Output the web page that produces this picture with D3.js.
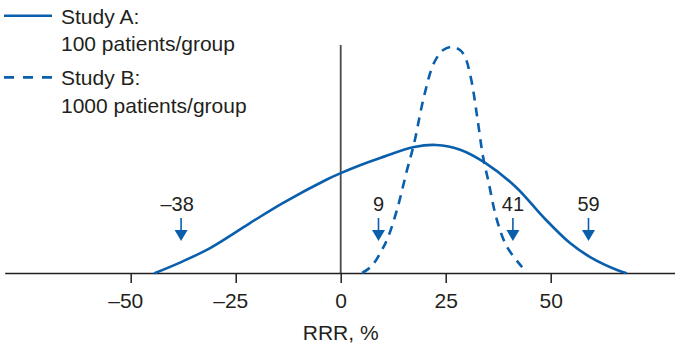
<!DOCTYPE html>
<html>
<head>
<meta charset="utf-8">
<script src="https://cdn.jsdelivr.net/npm/d3@7"></script>
<style>
  html, body { margin: 0; padding: 0; background: #fff; }
  svg { display: block; }
  text { font-family: "Liberation Sans", Arial, Helvetica, sans-serif; fill: #231f20; }
</style>
</head>
<body>
<svg id="chart" width="675" height="344"></svg>
<script>
// Relative risk reduction (%) and relative likelihood for each study
const studyA_rrr     = [-44.2, -38, -31.1, -21.6, -13.8, -3.3, 0, 4.6, 9.4, 17.5, 22.7, 28.6, 34.4, 41.7, 48.2, 54.6, 59.4, 65.8, 67.9];
const studyA_density = [0, 0.048, 0.110, 0.220, 0.308, 0.412, 0.440, 0.475, 0.507, 0.555, 0.564, 0.542, 0.485, 0.379, 0.247, 0.132, 0.070, 0.013, 0];

const studyB_rrr     = [5.1, 7.4, 9.8, 11.3, 13.4, 15.8, 17.5, 19.8, 22.2, 24.4, 26.5, 28.4, 29.6, 31.1, 32.5, 33.9, 35.1, 37.2, 39.6, 43.2];
const studyB_density = [0, 0.031, 0.101, 0.159, 0.278, 0.454, 0.573, 0.775, 0.925, 0.982, 0.996, 0.982, 0.952, 0.850, 0.687, 0.511, 0.410, 0.233, 0.115, 0.026];

// 95% confidence limits marked with arrows
const ciLimits = [-38, 9, 41, 59];

const xTicks = [-50, -25, 0, 25, 50];
const legendLabels = [["Study A:", "100 patients/group"], ["Study B:", "1000 patients/group"]];
const xTitle = "RRR, %";

const blue = "#0a5fac";
const svg = d3.select("#chart");

const x = d3.scaleLinear().domain([-80, 80]).range([4.7, 676.7]);
const y = d3.scaleLinear().domain([0, 1]).range([273, 46]);

const fmt = v => (v < 0 ? "\u2013" + Math.abs(v) : String(v));

// Zero reference line
svg.append("line")
  .attr("x1", x(0)).attr("x2", x(0))
  .attr("y1", 45).attr("y2", y(0))
  .attr("stroke", "#4a4a4a").attr("stroke-width", 1.8);

// X axis
const axis = svg.append("g")
  .attr("transform", `translate(0,${y(0)})`)
  .call(d3.axisBottom(x).tickValues(xTicks).tickFormat(fmt)
    .tickSize(10).tickSizeOuter(0).tickPadding(10));
axis.select(".domain").attr("stroke", "#231f20").attr("stroke-width", 1.6);
axis.selectAll(".tick line").attr("stroke", "#231f20").attr("stroke-width", 1.5);
axis.selectAll(".tick text")
  .attr("font-size", 21)
  .attr("fill", "#231f20")
  .attr("dx", d => (d < 0 ? "-0.26em" : 0));

svg.append("text")
  .attr("x", x(0)).attr("y", 340)
  .attr("text-anchor", "middle")
  .attr("font-size", 21)
  .text(xTitle);

// Likelihood curves
const line = d3.line().x(d => x(d[0])).y(d => Math.min(y(0), y(d[1]))).curve(d3.curveCatmullRom.alpha(0.5));

svg.append("path")
  .datum(d3.zip(studyA_rrr, studyA_density))
  .attr("d", line)
  .attr("fill", "none").attr("stroke", blue).attr("stroke-width", 2.6)
  .attr("stroke-linecap", "round");

svg.append("path")
  .datum(d3.zip(studyB_rrr, studyB_density))
  .attr("d", line)
  .attr("fill", "none").attr("stroke", blue).attr("stroke-width", 2.6)
  .attr("stroke-dasharray", "9,7");

// Confidence-limit arrows and labels
const ci = svg.append("g").selectAll("g").data(ciLimits).join("g")
  .attr("transform", d => `translate(${x(d)},0)`);
ci.append("line")
  .attr("x1", 0).attr("x2", 0).attr("y1", 218).attr("y2", 231)
  .attr("stroke", blue).attr("stroke-width", 1.6);
ci.append("path")
  .attr("d", "M-6.5,230 L6.5,230 L0,241 Z")
  .attr("fill", blue);
ci.append("text")
  .attr("y", 211)
  .attr("text-anchor", "middle")
  .attr("dx", d => (d < 0 ? "-0.2em" : 0))
  .attr("font-size", 20)
  .text(fmt);

// Legend
const legend = svg.append("g").selectAll("g").data(legendLabels).join("g")
  .attr("transform", (d, i) => `translate(0,${i * 61.7})`);
legend.append("line")
  .attr("x1", 4).attr("x2", 52).attr("y1", 15.7).attr("y2", 15.7)
  .attr("stroke", blue).attr("stroke-width", 2.6)
  .attr("stroke-dasharray", (d, i) => (i === 1 ? "10,9" : null));
legend.append("text")
  .attr("x", 61).attr("y", 23.5)
  .attr("font-size", 21)
  .text(d => d[0]);
legend.append("text")
  .attr("x", 61).attr("y", 51)
  .attr("font-size", 21)
  .text(d => d[1]);
</script>
</body>
</html>
